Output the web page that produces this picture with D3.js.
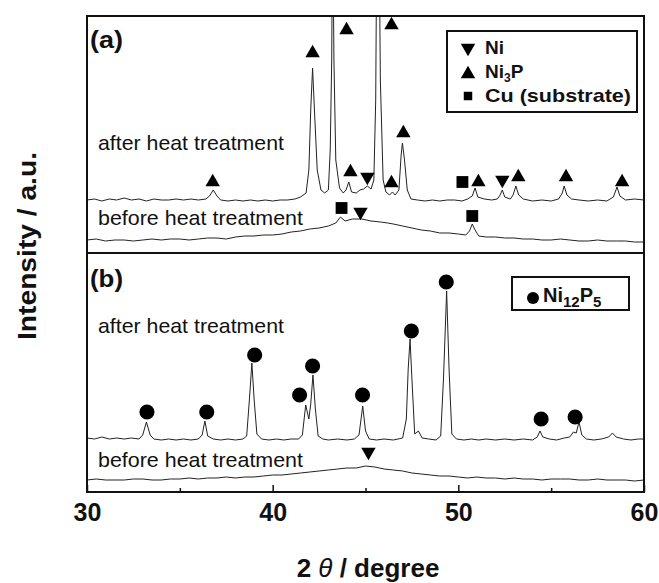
<!DOCTYPE html>
<html lang="en">
<head>
  <meta charset="UTF-8">
  <script src="https://d3js.org/d3.v7.min.js"></script>
  <title>XRD patterns</title>
  <style>
    body { margin: 0; background: #fff; }
    text { font-family: Arial, "Liberation Sans", sans-serif; fill: #111; }
  </style>
</head>
<body>
  <svg id="svgWrapper" width="659" height="583"></svg>
  <script>
    // 2theta range and ticks
    const xDomain = [30, 60];
    const majorTicks = [30, 40, 50, 60];
    const minorTicks = [35, 45, 55];

    // panel (a) traces: [2theta, intensity a.u.]
    const aAfter = [
      [30.0,53],[30.4,54],[30.8,52],[31.2,54],[31.6,53],[32.0,55],[32.4,53],[32.8,54],[33.2,52],[33.6,54],
      [34.0,53],[34.4,53],[34.8,54],[35.2,53],[35.6,54],[36.0,53],[36.4,54],[36.6,57],[36.8,63],[37.0,57],
      [37.2,53],[37.6,52],[38.0,53],[38.4,52],[38.8,53],[39.2,52],[39.6,53],[40.0,52],[40.4,53],[40.8,53],
      [41.2,54],[41.5,56],[41.8,60],[41.95,83],[42.05,143],[42.15,185],[42.25,143],[42.4,83],[42.6,63],[42.8,60],
      [43.0,63],[43.1,103],[43.18,193],[43.23,353],[43.3,193],[43.4,93],[43.6,65],[43.8,60],[43.95,63],[44.1,71],
      [44.25,61],[44.5,60],[44.7,63],[44.9,64],[45.1,67],[45.3,64],[45.45,73],[45.55,153],[45.62,353],[45.72,353],
      [45.8,173],[45.95,73],[46.1,61],[46.3,58],[46.45,61],[46.6,58],[46.8,63],[46.92,98],[46.99,110],[47.1,93],
      [47.25,63],[47.45,54],[47.8,53],[48.2,52],[48.6,53],[49.0,52],[49.4,53],[49.8,53],[50.2,52],[50.5,54],
      [50.75,57],[50.9,65],[51.05,56],[51.4,54],[51.8,53],[52.1,54],[52.25,58],[52.37,63],[52.5,56],[52.8,54],
      [52.95,58],[53.1,67],[53.25,58],[53.5,54],[54.0,52],[54.5,53],[55.0,52],[55.4,54],[55.6,60],[55.7,67],
      [55.85,58],[56.1,54],[56.5,53],[57.0,52],[57.5,53],[58.0,52],[58.35,56],[58.55,66],[58.7,57],[59.0,53],
      [59.5,54],[60.0,53]
    ];
    const aBefore = [
      [30,13],[30.5,14],[31,12],[31.5,13],[32,13],[32.5,12],[33,13],[33.5,14],[34,13],[34.5,14],[35,14],
      [35.5,13],[36,14],[36.5,15],[37,15],[37.5,14],[38,16],[38.5,17],[39,17],[39.5,18],[40,18],[40.5,19],
      [41,21],[41.5,22],[42,24],[42.5,25],[43,27],[43.4,30],[43.65,36],[43.9,32],[44.3,34],[44.8,34],
      [45.3,32],[45.8,31],[46.2,30],[46.5,29],[47,27],[47.5,25],[48,23],[48.5,22],[49,20],[49.5,20],
      [50,19],[50.4,18],[50.6,22],[50.75,29],[50.9,23],[51.1,17],[51.5,16],[52,16],[52.5,15],[53,15],
      [53.5,14],[54,14],[54.5,13],[55,13],[55.5,14],[56,13],[56.5,12],[57,12],[57.5,13],[58,12],[58.5,12],
      [59,12],[59.5,11],[60,11]
    ];

    // panel (b) traces
    const bAfter = [
      [30,54],[30.4,53],[30.8,55],[31.2,53],[31.6,54],[32,53],[32.4,54],[32.8,53],[33.0,57],[33.2,70],
      [33.4,57],[33.6,53],[34,52],[34.4,53],[34.8,52],[35.2,53],[35.6,52],[36,53],[36.2,57],[36.35,71],
      [36.5,56],[36.8,53],[37.2,52],[37.6,53],[38,52],[38.4,53],[38.6,56],[38.75,93],[38.88,129],[39.0,93],
      [39.15,58],[39.4,53],[39.8,52],[40.2,53],[40.6,52],[41,53],[41.4,53],[41.6,57],[41.78,87],[41.95,73],
      [42.05,88],[42.17,117],[42.3,83],[42.45,56],[42.7,53],[43,52],[43.5,53],[44,52],[44.4,53],[44.65,57],
      [44.85,86],[45.0,61],[45.2,53],[45.6,52],[46,53],[46.5,52],[47,54],[47.2,73],[47.3,123],[47.4,153],
      [47.5,113],[47.65,58],[47.85,61],[48.05,54],[48.4,53],[48.8,52],[49.05,56],[49.2,113],[49.37,201],[49.5,123],
      [49.65,58],[49.9,53],[50.3,52],[50.7,53],[51.1,52],[51.5,53],[52,52],[52.5,53],[53,52],[53.5,53],
      [54,52],[54.25,55],[54.4,61],[54.55,55],[54.9,53],[55.3,52],[55.7,54],[56.0,55],[56.2,60],[56.35,59],
      [56.5,70],[56.65,57],[56.9,53],[57.3,52],[57.7,53],[58.1,55],[58.3,59],[58.5,55],[58.9,53],[59.3,52],
      [59.7,53],[60,53]
    ];
    const bBefore = [
      [30,12],[30.5,13],[31,12],[31.5,12],[32,12],[32.5,13],[33,13],[33.5,12],[34,12],[34.5,13],[35,13],
      [35.5,14],[36,13],[36.5,14],[37,14],[37.5,15],[38,14],[38.5,15],[39,15],[39.5,16],[40,17],[40.5,17],
      [41,18],[41.5,19],[42,20],[42.5,21],[43,22],[43.5,23],[44,24],[44.5,24],[45,26],[45.5,25],[46,23],
      [46.5,22],[47,21],[47.5,19],[48,18],[48.5,17],[49,16],[49.5,16],[50,15],[50.5,14],[51,15],[51.5,14],
      [52,14],[52.5,13],[53,14],[53.5,13],[54,13],[54.5,12],[55,13],[55.5,13],[56,13],[56.5,12],[57,12],
      [57.5,13],[58,12],[58.5,12],[59,12],[59.5,11],[60,12]
    ];

    // phase markers: [2theta, marker height]
    const aNi3P = [[36.77,71],[42.15,200],[43.98,223],[44.19,81],[46.4,228],[46.4,70],[47.04,120],
                   [51.08,71],[53.23,76],[55.8,76],[58.82,71]];
    const aNi = [[45.1,76],[52.37,73],[44.73,41]];
    const aCu = [[50.22,71],[43.71,45],[50.75,37]];
    const bNi12P5 = [[33.23,80],[36.45,80],[39.03,137],[41.45,97],[42.15,126],[44.84,97],[47.47,161],
                     [49.35,210],[54.46,73],[56.29,75]];
    const bNi = [[45.16,40]];

    const svgEl = d3.select('#svgWrapper');
    const left = 87, right = 644;
    const aTop = 16, mid = 253, bottom = 492;

    const x = d3.scaleLinear().domain(xDomain).range([left, right]);
    const yA = d3.scaleLinear().domain([0, 237]).range([mid, aTop]);
    const yB = d3.scaleLinear().domain([0, 239]).range([bottom, mid]);

    const defs = svgEl.append('defs');
    defs.append('clipPath').attr('id', 'clipA')
      .append('rect').attr('x', left).attr('y', aTop).attr('width', right - left).attr('height', mid - aTop);
    defs.append('clipPath').attr('id', 'clipB')
      .append('rect').attr('x', left).attr('y', mid).attr('width', right - left).attr('height', bottom - mid);

    const drawTrace = (data, y, clip) => {
      const line = d3.line().x(d => x(d[0])).y(d => y(d[1]));
      svgEl.append('path')
        .datum(data)
        .attr('clip-path', `url(#${clip})`)
        .attr('fill', 'none')
        .attr('stroke', '#222')
        .attr('stroke-width', 1)
        .attr('stroke-linejoin', 'round')
        .attr('d', line);
    };
    drawTrace(aAfter, yA, 'clipA');
    drawTrace(aBefore, yA, 'clipA');
    drawTrace(bAfter, yB, 'clipB');
    drawTrace(bBefore, yB, 'clipB');

    // markers
    const drawMarkers = (data, y, type, size, rotate) => {
      svgEl.append('g').selectAll('path')
        .data(data)
        .enter()
        .append('path')
        .attr('d', d3.symbol().type(type).size(size))
        .attr('transform', d => `translate(${x(d[0])},${y(d[1])})` + (rotate ? ' rotate(180)' : ''))
        .attr('fill', '#000');
    };
    drawMarkers(aNi3P, yA, d3.symbolTriangle, 90, false);
    drawMarkers(aNi, yA, d3.symbolTriangle, 90, true);
    drawMarkers(aCu, yA, d3.symbolSquare, 140, false);
    drawMarkers(bNi12P5, yB, d3.symbolCircle, 180, false);
    drawMarkers(bNi, yB, d3.symbolTriangle, 90, true);

    // frame
    svgEl.append('rect')
      .attr('x', left).attr('y', aTop).attr('width', right - left).attr('height', bottom - aTop)
      .attr('fill', 'none').attr('stroke', '#111').attr('stroke-width', 2);
    svgEl.append('line')
      .attr('x1', left).attr('x2', right).attr('y1', mid).attr('y2', mid)
      .attr('stroke', '#111').attr('stroke-width', 2);

    // bottom axis, ticks pointing inside
    const majorAxis = svgEl.append('g')
      .attr('transform', `translate(0,${bottom})`)
      .call(d3.axisBottom(x).tickValues(majorTicks).tickSize(-7).tickPadding(14).tickFormat(d3.format('d')));
    const minorAxis = svgEl.append('g')
      .attr('transform', `translate(0,${bottom})`)
      .call(d3.axisBottom(x).tickValues(minorTicks).tickSize(-4).tickFormat(''));
    [majorAxis, minorAxis].forEach(g => {
      g.select('.domain').remove();
      g.selectAll('line').attr('stroke', '#111').attr('stroke-width', 1.5);
    });
    majorAxis.selectAll('text')
      .attr('y', 0).attr('dy', null)
      .attr('transform', 'translate(0,29)')
      .style('font-family', 'Arial, "Liberation Sans", sans-serif')
      .style('font-size', '25px').style('font-weight', 'bold').attr('fill', '#111');

    // panel texts
    const addText = (str, px, py, size, weight, len) => {
      const t = svgEl.append('text').attr('x', px).attr('y', py)
        .style('font-size', size + 'px').style('font-weight', weight).text(str);
      if (len) t.attr('textLength', len).attr('lengthAdjust', 'spacingAndGlyphs');
      return t;
    };
    addText('(a)', 90, 48, 23, 'bold', 33);
    addText('(b)', 90, 287, 23, 'bold', 33);
    addText('after heat treatment', 98, 150, 21, 'normal', 186);
    addText('before heat treatment', 98, 225, 21, 'normal', 205);
    addText('after heat treatment', 98, 333, 21, 'normal', 186);
    addText('before heat treatment', 98, 467, 21, 'normal', 205);

    // legend (a)
    svgEl.append('rect').attr('x', 447).attr('y', 31).attr('width', 190).attr('height', 81)
      .attr('fill', '#fff').attr('stroke', '#111').attr('stroke-width', 2);
    svgEl.append('path').attr('d', d3.symbol().type(d3.symbolTriangle).size(90))
      .attr('transform', 'translate(468,48) rotate(180)');
    svgEl.append('path').attr('d', d3.symbol().type(d3.symbolTriangle).size(90))
      .attr('transform', 'translate(468,74)');
    svgEl.append('path').attr('d', d3.symbol().type(d3.symbolSquare).size(72))
      .attr('transform', 'translate(468,96)');
    addText('Ni', 485, 54, 19, 'bold');
    const ni3p = addText('Ni', 485, 78, 19, 'bold');
    ni3p.append('tspan').attr('dy', 4).style('font-size', '12px').text('3');
    ni3p.append('tspan').attr('dy', -4).text('P');
    addText('Cu (substrate)', 485, 102, 19, 'bold', 146);

    // legend (b)
    svgEl.append('rect').attr('x', 512).attr('y', 277).attr('width', 117).attr('height', 33)
      .attr('fill', '#fff').attr('stroke', '#111').attr('stroke-width', 2);
    svgEl.append('circle').attr('cx', 533).attr('cy', 298).attr('r', 6).attr('fill', '#000');
    const ni12 = addText('Ni', 543, 302, 20, 'bold');
    ni12.append('tspan').attr('dy', 5).style('font-size', '15px').text('12');
    ni12.append('tspan').attr('dy', -5).text('P');
    ni12.append('tspan').attr('dy', 5).style('font-size', '15px').text('5');

    // axis titles
    svgEl.append('text')
      .attr('transform', 'translate(36,246) rotate(-90)')
      .attr('text-anchor', 'middle')
      .attr('textLength', 188).attr('lengthAdjust', 'spacingAndGlyphs')
      .style('font-size', '25px').style('font-weight', 'bold')
      .text('Intensity / a.u.');

    const xTitle = svgEl.append('text')
      .attr('x', 368).attr('y', 577)
      .attr('text-anchor', 'middle')
      .style('font-size', '26px').style('font-weight', 'bold');
    xTitle.append('tspan').text('2 ');
    xTitle.append('tspan').style('font-style', 'italic').style('font-weight', 'normal').text('θ');
    xTitle.append('tspan').text('  / degree');
  </script>
</body>
</html>
